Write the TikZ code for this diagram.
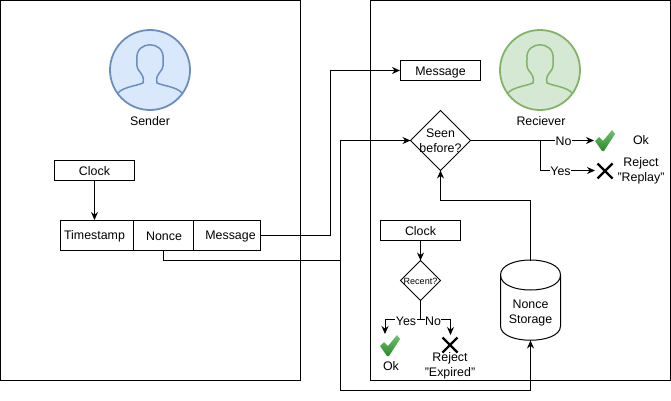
\documentclass[tikz,border=0pt]{standalone}
\usepackage{fontspec}
\setmainfont{Liberation Sans}
\usetikzlibrary{arrows.meta}
\begin{document}
\begin{tikzpicture}[x=1pt,y=-1pt,
  txt/.style={inner sep=0pt,font=\fontsize{12.4}{15}\selectfont,align=center},
  lbl/.style={txt,fill=white,inner sep=0.5pt},
  boxn/.style={draw=black,line width=1pt,minimum width=80pt,minimum height=20pt,inner sep=0pt,font=\fontsize{12.4}{15}\selectfont,text depth=0pt,text height=9pt},
  cell/.style={draw=black,line width=1pt,minimum height=30pt,inner sep=0pt},
  dia/.style={draw=black,line width=0.8pt},
  conn/.style={draw=black,line width=1pt,-{Stealth[length=8pt,width=7pt]}},
  plain/.style={draw=black,line width=1pt},
  panel/.style={draw=black,line width=1pt},
  ]
\useasboundingbox (0,0) rectangle (671,400);
\definecolor{avblue}{HTML}{DAE8FC}\definecolor{avblueD}{HTML}{6C8EBF}
\definecolor{avgreen}{HTML}{D5E8D4}\definecolor{avgreenD}{HTML}{82B366}
\definecolor{chkT}{HTML}{6FC26F}\definecolor{chkB}{HTML}{2A8A2A}
\def\avatar#1#2#3{%
 \begin{scope}[shift={(#1,70)}]
  \draw[draw=#3,fill=#2,line width=1.8pt] (0,0) circle (40);
  \draw[draw=#3,line width=1.5pt,line join=round]
    (-32,23) .. controls (-27,17) and (-14,16) .. (-7,13)
    .. controls (-6,8) and (-7,6) .. (-10,2)
    .. controls (-14,-2) and (-13,-6) .. (-13,-11)
    .. controls (-15,-30) and (15,-30) .. (13,-11)
    .. controls (13,-6) and (14,-2) .. (10,2)
    .. controls (7,6) and (6,8) .. (7,13)
    .. controls (14,16) and (27,17) .. (32,23);
 \end{scope}}
\def\chkmark#1#2{%
 \shade[top color=chkT,bottom color=chkB,shift={(#1,#2)}] (-10,1) -- (-6,-3) -- (-2,1) -- (7,-10) -- (10,-6) -- (-1,11) -- (-3,11) -- cycle;}
\def\xmark#1#2{%
 \draw[black,line width=2.4pt,shift={(#1,#2)}] (-7.5,-7.5) -- (7.5,7.5) (7.5,-7.5) -- (-7.5,7.5);}
% panels
\draw[panel] (0.5,0.5) rectangle (300.5,380.5);
\draw[panel] (370.5,0.5) rectangle (670.5,380.5);
% avatars
\avatar{150}{avblue}{avblueD}
\avatar{540}{avgreen}{avgreenD}
\node[txt] (senderlbl) at (150,120.8) {Sender};
\node[txt] (recvlbl) at (541,121.3) {Reciever};
% sender
\node[boxn] (clockA) at (94.5,170.5) {Clock};
\node[cell,minimum width=73pt] (ts) at (97,235.5) {};
\node[cell,minimum width=60pt] (nonce) at (163.5,235.5) {};
\node[cell,minimum width=67pt] (msg) at (227,235.5) {};
\node[txt] (tsT) at (94.5,236.3) {Timestamp};
\node[txt] (nonceT) at (164,236.3) {Nonce};
\node[txt] (msgT) at (230.5,236.3) {Message};
% receiver
\node[boxn] (msgB) at (440.5,70.5) {Message};
\coordinate (seenL) at (410.5,140.5);\coordinate (seenR) at (470.5,140.5);
\coordinate (seenT) at (440.5,110.5);\coordinate (seenB) at (440.5,170.5);
\draw[dia] (seenL) -- (seenT) -- (seenR) -- (seenB) -- cycle;
\node[txt] (seen) at (440.5,140.8) {Seen\\before?};
\node[boxn] (clockB) at (420.5,230.5) {Clock};
\coordinate (recL) at (400.5,280.5);\coordinate (recR) at (440.5,280.5);
\coordinate (recT) at (420.5,260.5);\coordinate (recB) at (420.5,300.5);
\draw[dia] (recL) -- (recT) -- (recR) -- (recB) -- cycle;
\node[txt,font=\fontsize{9}{11}\selectfont] (rec) at (420.5,281.5) {Recent?};
% cylinder
\draw[plain,fill=white] (500.5,275) .. controls (500.5,255) and (560.5,255) .. (560.5,275)
  -- (560.5,326) .. controls (560.5,345) and (500.5,345) .. (500.5,326) -- cycle;
\draw[plain] (500.5,275) .. controls (500.5,295) and (560.5,295) .. (560.5,275);
\node[txt] (store) at (530.5,313) {Nonce\\Storage};
\coordinate (cylT) at (530.5,260.5);\coordinate (cylB) at (530.5,340.5);
% connectors
\draw[conn] (clockA.south) -- (94.5,220);
\draw[conn] (msg.east) -- (330.5,235.5) -- (330.5,70.5) -- (msgB.west);
\coordinate (jn) at (340.5,260.5);
\draw[plain] (nonce.south) -- (163.5,260.5) -- (jn);
\draw[conn] (jn) -- (340.5,140.5) -- (seenL);
\draw[conn] (jn) -- (340.5,390.5) -- (530.5,390.5) -- (cylB);
\draw[conn] (cylT) -- (530.5,200.5) -- (440.5,200.5) -- (seenB);
\draw[conn] (clockB.south) -- (recT);
% decisions
\coordinate (okA) at (594,140.5);\coordinate (xA) at (595,170.5);
\draw[conn] (seenR) -- (okA);
\node[lbl] at (563.5,141) {No};
\draw[conn] (540.5,140.5) -- (540.5,170.5) -- (xA);
\node[lbl] at (560.5,171.5) {Yes};
\chkmark{605}{140}
\xmark{605}{171}
\node[txt] (okAl) at (641,140.5) {Ok};
\node[txt] (rejA) at (641,171) {Reject\\"Replay"};
\coordinate (okB) at (385,334);\coordinate (xB) at (450.5,335);
\draw[plain] (recB) -- (420.5,319.5);
\draw[conn] (420.5,319.5) -- (385,319.5) -- (okB);
\draw[conn] (420.5,319.5) -- (450.5,319.5) -- (xB);
\node[lbl] at (406,321.5) {Yes};
\node[lbl] at (433,321.5) {No};
\chkmark{390}{345}
\xmark{450}{345}
\node[txt] (okBl) at (391,366.5) {Ok};
\node[txt] (rejB) at (450,365.5) {Reject\\"Expired"};
\end{tikzpicture}
\end{document}
